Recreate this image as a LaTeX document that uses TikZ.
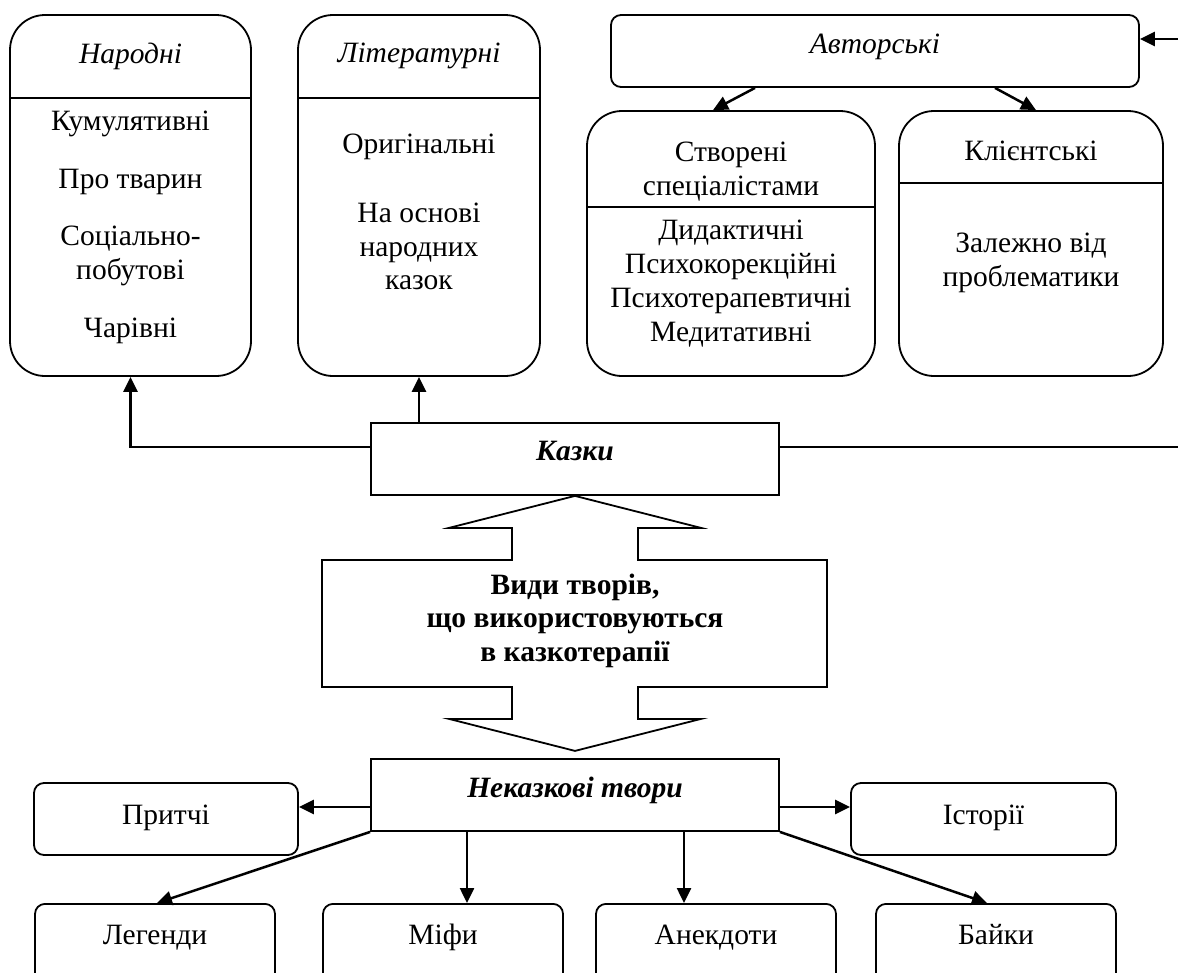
\documentclass[tikz,border=0pt]{standalone}
\usepackage{fontspec}
\setmainfont{Liberation Serif}
\usetikzlibrary{arrows.meta}
\newcommand\bodysize{\fontsize{29.5}{33.5}\selectfont}

\begin{document}
\begin{tikzpicture}[x=1pt,y=-1pt,line width=1.8pt,font=\bodysize]
    \tikzstyle{bigbox}=[draw,rounded corners=35pt,inner sep=0pt]
    \tikzstyle{plainbox}=[draw,inner xsep=0pt,text height=19pt,text depth=15pt]
    \tikzstyle{smallbox}=[draw,rounded corners=10pt,inner xsep=0pt,minimum height=72pt,text height=19pt,text depth=9pt]
    \tikzstyle{lowbox}=[draw,rounded corners=10pt,anchor=north,minimum width=240pt,inner xsep=0pt,inner ysep=22pt,text height=19pt,text depth=35pt]
    \tikzstyle{txt}=[anchor=north,inner sep=0pt,align=center]
    \tikzstyle{arr}=[line width=2.5pt,-{Triangle[length=15pt,width=14pt]}]
    \useasboundingbox (0,0) rectangle (1178,972);
    % upper row
    \node[bigbox,minimum width=241pt,minimum height=361pt] (narodni) at (130.5,195.5) {};
      \draw (narodni.west |- 0,98) -- (narodni.east |- 0,98);
      \node[txt,font=\bodysize\itshape] (narodniH) at (130.5,42.5) {Народні};
      \node[txt] (kumul) at (130.5,110.5) {Кумулятивні};
      \node[txt] (tvaryny) at (130.5,168.5) {Про тварин};
      \node[txt] (social) at (130.5,225.5) {Соціально-\\побутові};
      \node[txt] (charivni) at (130.5,317.5) {Чарівні};
    \node[bigbox,minimum width=242pt,minimum height=361pt] (lit) at (419,195.5) {};
      \draw (lit.west |- 0,98) -- (lit.east |- 0,98);
      \node[txt,font=\bodysize\itshape] (litH) at (419,42.5) {Літературні};
      \node[txt] (orig) at (419,133.5) {Оригінальні};
      \node[txt] (osnova) at (419,202.5) {На основі\\народних\\казок};
    \node[plainbox,rounded corners=10pt,minimum width=528pt,minimum height=72pt] (avtor) at (875,51) {\itshape Авторські};
    \node[bigbox,minimum width=288pt,minimum height=265pt] (stvor) at (731,243.5) {};
      \draw (stvor.west |- 0,207) -- (stvor.east |- 0,207);
      \node[txt] (stvorH) at (731,141.5) {Створені\\спеціалістами};
      \node[txt,font=\fontsize{29.5}{34}\selectfont] (stvorL) at (731,219.5) {Дидактичні\\Психокорекційні\\Психотерапевтичні\\Медитативні};
    \node[bigbox,minimum width=264pt,minimum height=265pt] (klient) at (1031,243.5) {};
      \draw (klient.west |- 0,183) -- (klient.east |- 0,183);
      \node[txt] (klientH) at (1031,140.5) {Клієнтські};
      \node[txt] (klientL) at (1031,232.5) {Залежно від\\проблематики};
    % middle
    \node[plainbox,minimum width=408pt,minimum height=72pt,text depth=17pt] (kazky) at (575,459) {\bfseries\itshape Казки};
    \coordinate (rim) at (1181,447);
    \draw[arr] ([yshift=12pt]kazky.west) -| (narodni.south);
    \draw[arr] (kazky.north -| lit.south) -- (lit.south);
    \draw[arr] ([yshift=12pt]kazky.east) -- (rim) |- ([yshift=12pt]avtor.east);
    \draw[arr] ([xshift=-120pt]avtor.south) -- ([xshift=-18pt]stvor.north);
    \draw[arr] ([xshift=120pt]avtor.south) -- ([xshift=5pt]klient.north);
    \draw (kazky.south) -- ++(126,32) -- ++(-63,0) -- ++(0,32) -- ++(189,0) -- ++(0,127)
      -- ++(-189,0) -- ++(0,32) -- ++(63,0) -- ++(-126,32) -- ++(-126,-32) -- ++(63,0)
      -- ++(0,-32) -- ++(-190,0) -- ++(0,-127) -- ++(190,0) -- ++(0,-32) -- ++(-63,0) -- cycle;
    \node[txt,font=\bodysize\bfseries] (vydy) at (575,573) {Види творів,\\що використовуються\\в казкотерапії};
    % lower part
    \node[plainbox,minimum width=408pt,minimum height=72pt] (nekaz) at (575,795) {\bfseries\itshape Неказкові твори};
    \node[smallbox,minimum width=264pt] (prytchi) at (166,819) {Притчі};
    \node[smallbox,minimum width=265pt] (istorii) at (983.5,819) {Історії};
    \node[lowbox] (legendy) at (155,903) {Легенди};
    \node[lowbox] (mify) at (443,903) {Міфи};
    \node[lowbox] (anekdoty) at (716,903) {Анекдоти};
    \node[lowbox] (bayky) at (996,903) {Байки};
    \draw[arr] ([yshift=-12pt]nekaz.west) -- ([yshift=-12pt]nekaz.west -| prytchi.east);
    \draw[arr] ([yshift=-12pt]nekaz.east) -- ([yshift=-12pt]nekaz.east -| istorii.west);
    \draw[arr] (nekaz.south west) -- ([xshift=2pt]legendy.north);
    \draw[arr] ([xshift=-108pt]nekaz.south) -- ([xshift=-108pt]nekaz.south |- mify.north);
    \draw[arr] ([xshift=109pt]nekaz.south) -- ([xshift=109pt]nekaz.south |- anekdoty.north);
    \draw[arr] (nekaz.south east) -- ([xshift=-9pt]bayky.north);
\end{tikzpicture}
\end{document}
